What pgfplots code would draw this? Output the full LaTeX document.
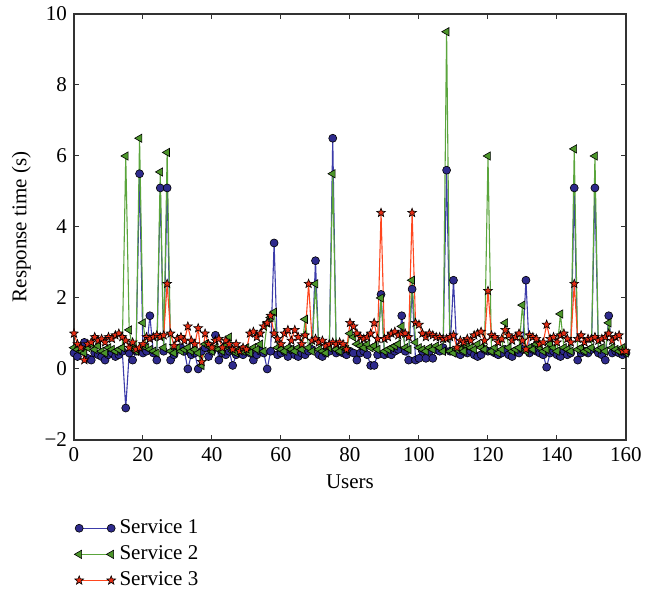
\documentclass[border=0pt]{standalone}
\usepackage{fontspec}
\setmainfont{Liberation Serif}
\usepackage{pgfplots}
\usepackage{pgfplotstable}
\pgfplotsset{compat=1.18}

\definecolor{sone}{RGB}{46,42,140}
\definecolor{soneline}{RGB}{60,60,170}
\definecolor{stwo}{RGB}{76,150,42}
\definecolor{stwoline}{RGB}{90,165,60}
\definecolor{sthree}{RGB}{230,45,20}
\definecolor{sthreeline}{RGB}{255,70,30}
\definecolor{axisgray}{RGB}{50,50,50}

% filled five-pointed star
\pgfdeclareplotmark{fstar}{%
  \pgfpathmoveto{\pgfpointpolar{90}{\pgfplotmarksize}}%
  \pgfpathlineto{\pgfpointpolar{126}{0.42\pgfplotmarksize}}%
  \pgfpathlineto{\pgfpointpolar{162}{\pgfplotmarksize}}%
  \pgfpathlineto{\pgfpointpolar{198}{0.42\pgfplotmarksize}}%
  \pgfpathlineto{\pgfpointpolar{234}{\pgfplotmarksize}}%
  \pgfpathlineto{\pgfpointpolar{270}{0.42\pgfplotmarksize}}%
  \pgfpathlineto{\pgfpointpolar{306}{\pgfplotmarksize}}%
  \pgfpathlineto{\pgfpointpolar{342}{0.42\pgfplotmarksize}}%
  \pgfpathlineto{\pgfpointpolar{18}{\pgfplotmarksize}}%
  \pgfpathlineto{\pgfpointpolar{54}{0.42\pgfplotmarksize}}%
  \pgfpathclose
  \pgfusepathqfillstroke}

\pgfplotstableread{
x   s1    s2    s3
0   0.45  0.60  1.00
1   0.35  0.55  0.70
2   0.55  0.50  0.60
3   0.75  0.45  0.25
4   0.30  0.60  0.70
5   0.25  0.70  0.75
6   0.45  0.55  0.90
7   0.40  0.65  0.80
8   0.35  0.50  0.85
9   0.25  0.45  0.75
10  0.40  0.60  0.90
11  0.45  0.55  0.85
12  0.35  0.50  0.95
13  0.40  0.55  1.00
14  0.50  0.60  0.90
15  -1.10 6.00  0.80
16  0.45  1.10  0.60
17  0.25  0.60  0.75
18  0.50  0.50  0.55
19  5.50  6.50  0.60
20  0.45  1.30  0.70
21  0.50  0.60  0.90
22  1.50  0.55  0.85
23  0.45  0.50  0.90
24  0.25  0.45  0.95
25  5.10  5.55  0.90
26  0.50  0.60  0.95
27  5.10  6.10  2.40
28  0.25  0.50  1.00
29  0.40  0.45  0.65
30  0.55  0.60  0.85
31  0.60  0.50  0.90
32  0.50  0.55  0.80
33  0.00  0.60  1.20
34  0.40  0.50  0.80
35  0.45  0.55  0.70
36  0.00  0.45  1.15
37  0.50  0.10  0.20
38  0.60  0.70  1.00
39  0.35  0.65  0.70
40  0.50  0.50  0.60
41  0.95  0.60  0.80
42  0.25  0.55  0.85
43  0.45  0.50  0.60
44  0.40  0.65  0.80
45  0.50  0.90  0.70
46  0.10  0.50  0.55
47  0.40  0.45  0.70
48  0.45  0.55  0.50
49  0.40  0.50  0.60
50  0.50  0.60  0.55
51  0.45  0.45  1.00
52  0.25  0.60  1.05
53  0.40  0.55  0.90
54  0.50  0.70  1.00
55  0.45  0.50  1.20
56  0.00  1.30  1.30
57  0.50  1.45  1.50
58  3.55  1.60  1.00
59  0.40  0.60  0.85
60  0.45  0.55  0.70
61  0.50  0.50  1.00
62  0.35  0.60  1.10
63  0.55  0.55  0.80
64  0.40  0.50  1.10
65  0.35  0.60  0.90
66  0.45  0.55  0.70
67  0.40  1.40  0.95
68  0.50  0.60  2.40
69  0.55  0.50  0.80
70  3.05  2.40  0.85
71  0.40  0.55  0.75
72  0.35  0.50  0.80
73  0.45  0.45  0.65
74  0.50  0.60  0.70
75  6.50  5.50  0.75
76  0.45  0.55  0.70
77  0.50  0.50  0.75
78  0.45  0.60  0.70
79  0.40  0.55  0.55
80  0.50  1.00  1.30
81  0.45  0.90  1.20
82  0.25  0.70  1.00
83  0.45  0.65  0.90
84  0.50  0.60  0.85
85  0.40  0.70  0.90
86  0.10  0.60  1.00
87  0.10  0.65  1.30
88  0.40  0.55  0.85
89  2.10  2.00  4.40
90  0.40  0.50  0.85
91  0.45  0.55  0.90
92  0.40  0.60  1.00
93  0.50  0.65  1.05
94  0.55  0.70  0.95
95  1.50  1.20  1.00
96  0.50  0.60  1.00
97  0.25  0.55  0.90
98  2.25  2.50  4.40
99  0.25  0.75  1.30
100 0.30  0.60  1.25
101 0.50  0.55  1.00
102 0.30  0.50  0.90
103 0.50  0.60  1.00
104 0.30  0.55  0.95
105 0.55  0.65  0.90
106 0.50  0.60  0.90
107 0.60  0.50  0.85
108 5.60  9.50  0.85
109 0.50  0.50  0.90
110 2.50  0.45  0.95
111 0.45  0.55  0.60
112 0.40  0.60  0.80
113 0.50  0.50  0.75
114 0.45  0.65  0.85
115 0.50  0.60  0.80
116 0.40  0.55  0.95
117 0.35  0.70  1.00
118 0.40  0.60  1.05
119 0.55  0.55  0.80
120 0.50  6.00  2.20
121 0.50  0.50  0.95
122 0.45  0.60  0.90
123 0.40  0.45  0.75
124 0.45  0.55  0.85
125 0.55  1.30  1.10
126 0.40  0.60  0.95
127 0.35  0.50  0.80
128 0.50  0.55  0.90
129 0.45  0.60  1.00
130 0.55  1.80  0.80
131 2.50  0.50  0.55
132 0.45  0.60  0.95
133 0.55  0.55  0.90
134 0.50  0.70  0.85
135 0.45  0.60  0.70
136 0.40  0.50  0.75
137 0.05  0.55  1.25
138 0.45  0.70  0.85
139 0.50  0.60  0.90
140 0.40  0.50  0.75
141 0.35  1.55  0.95
142 0.50  0.60  1.00
143 0.40  0.55  0.85
144 0.45  0.50  0.75
145 5.10  6.20  2.40
146 0.25  0.55  0.85
147 0.45  0.60  0.95
148 0.50  0.50  0.75
149 0.45  0.55  0.85
150 0.55  0.60  0.85
151 5.10  6.00  0.90
152 0.45  0.55  0.80
153 0.40  0.60  0.85
154 0.25  0.50  0.90
155 1.50  1.30  1.00
156 0.45  0.60  0.80
157 0.50  0.55  0.90
158 0.45  0.50  0.95
159 0.40  0.60  0.50
160 0.45  0.45  0.50
}\services

\begin{document}
\begin{tikzpicture}
\useasboundingbox (-37pt,-76pt) rectangle (293.5pt,220pt);
\begin{axis}[
    at={(0pt,0pt)}, anchor=south west,
    scale only axis,
    width=276pt, height=213pt,
    xmin=0, xmax=160,
    ymin=-2, ymax=10,
    xtick={0,20,...,160},
    ytick={-2,0,2,4,6,8,10},
    yticklabels={−2,0,2,4,6,8,10},
    xlabel={Users},
    ylabel={Response time (s)},
    font=\fontsize{10.5}{12}\selectfont,
    /pgf/number format/assume math mode=true,
    tick align=inside,
    major tick length=2.5pt,
    axis line style={axisgray, line width=0.6pt},
    tick style={axisgray, line width=0.5pt},
    clip=false,
    legend style={at={(axis description cs:0,-0.177)}, anchor=north west,
        draw=none, fill=none, inner sep=0pt, row sep=0.6pt,
        font=\fontsize{10.5}{12}\selectfont},
    legend cell align=left,
    legend image code/.code={\draw[#1] plot coordinates {(0pt,0pt) (16pt,0pt)};},
]

\addplot[soneline, line width=0.55pt, mark=*, mark size=2pt,
    mark options={fill=sone, draw=black, line width=0.3pt}]
    table[x=x, y=s1] {\services};
\addlegendentry{Service 1}

\addplot[stwoline, line width=0.55pt, mark=triangle*, mark size=2.4pt,
    mark options={fill=stwo, draw=black, line width=0.3pt, rotate=90}]
    table[x=x, y=s2] {\services};
\addlegendentry{Service 2}

\addplot[sthreeline, line width=0.55pt, mark=fstar, mark size=2.3pt,
    mark options={fill=sthree, draw=black, line width=0.3pt}]
    table[x=x, y=s3] {\services};
\addlegendentry{Service 3}

\end{axis}
\end{tikzpicture}
\end{document}
